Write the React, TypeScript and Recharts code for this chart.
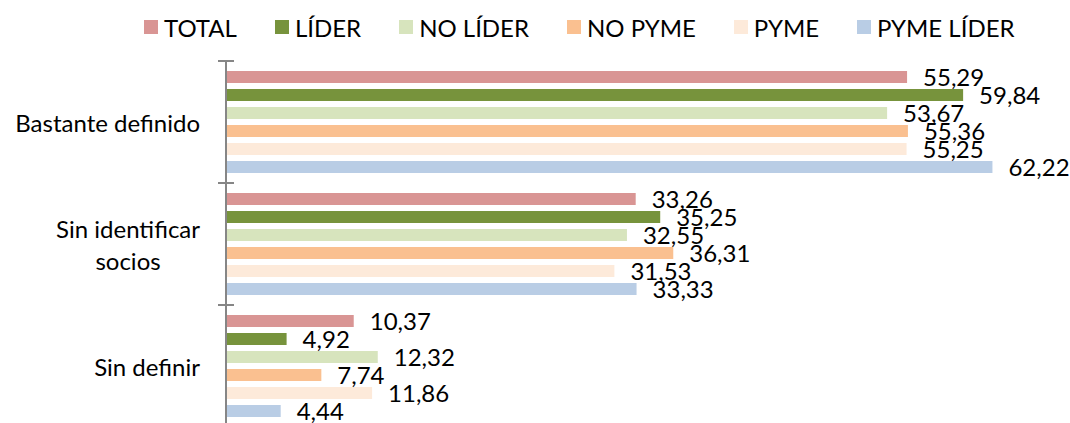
import { BarChart, Bar, XAxis, YAxis, Legend, LabelList } from "recharts";

const categories = ["Bastante definido", "Sin identificar\nsocios", "Sin definir"];
const seriesNames = ["TOTAL", "LÍDER", "NO LÍDER", "NO PYME", "PYME", "PYME LÍDER"];
const seriesColors = ["#D99594", "#77933C", "#D7E4BD", "#FAC090", "#FDEADA", "#B9CDE5"];

const total = [55.29, 33.26, 10.37];
const lider = [59.84, 35.25, 4.92];
const noLider = [53.67, 32.55, 12.32];
const noPyme = [55.36, 36.31, 7.74];
const pyme = [55.25, 31.53, 11.86];
const pymeLider = [62.22, 33.33, 4.44];

const seriesValues = [total, lider, noLider, noPyme, pyme, pymeLider];

const data = categories.map((name, i) => {
  const row: Record<string, string | number> = { name };
  seriesNames.forEach((s, k) => {
    row[s] = seriesValues[k][i];
  });
  return row;
});

const FONT = "Lato, 'Open Sans', sans-serif";
const FONT_SIZE = 24;
const PLOT_TOP = 61;
const PLOT_BOTTOM = 427;
const AXIS_X = 226;
const AXIS_COLOR = "#868686";
const BAND = (PLOT_BOTTOM - PLOT_TOP) / categories.length;

let ctx: CanvasRenderingContext2D | null = null;
const measure = (text: string) => {
  if (!ctx) ctx = document.createElement("canvas").getContext("2d");
  if (!ctx) return text.length * 10;
  ctx.font = `${FONT_SIZE}px Lato`;
  return ctx.measureText(text).width;
};

const CategoryTick = (props: any) => {
  const { y, payload } = props;
  const lines: string[] = String(payload.value).split("\n");
  const lineH = 32;
  const right = 200;
  const first = measure(lines[0]);
  return (
    <g>
      <line x1={AXIS_X - 8} x2={AXIS_X + 8} y1={y - BAND / 2} y2={y - BAND / 2} stroke={AXIS_COLOR} strokeWidth={2} />
      {lines.map((ln, i) => {
        const ly = y + (i - (lines.length - 1) / 2) * lineH;
        return (
          <text
            key={i}
            x={i === 0 ? right : right - first / 2}
            y={ly}
            textAnchor={i === 0 ? "end" : "middle"}
            dominantBaseline="central"
            fontFamily={FONT}
            fontSize={FONT_SIZE}
            fill="#000"
          >
            {ln}
          </text>
        );
      })}
    </g>
  );
};

const LegendContent = () => (
  <div style={{ height: 30, display: "flex", alignItems: "center", paddingLeft: 144, fontFamily: FONT, fontSize: FONT_SIZE, color: "#000" }}>
    {seriesNames.map((s, k) => (
      <div key={s} style={{ display: "flex", alignItems: "center", marginRight: 38 }}>
        <span style={{ width: 14, height: 14, background: seriesColors[k], marginRight: 6, display: "inline-block" }} />
        <span>{s}</span>
      </div>
    ))}
  </div>
);

const fmt = (v: any) => Number(v).toFixed(2).replace(".", ",");

export default function App() {
  return (
    <div style={{ position: "fixed", left: 0, top: 0, width: 1070, height: 423, overflow: "hidden", background: "#fff" }}>
      <BarChart
        width={1070}
        height={440}
        data={data}
        layout="vertical"
        barSize={12}
        barGap={6}
        margin={{ top: PLOT_TOP - 30, right: 31, bottom: 440 - PLOT_BOTTOM, left: 0 }}
      >
        <XAxis type="number" domain={[0, 66]} hide />
        <YAxis
          type="category"
          dataKey="name"
          width={AXIS_X}
          axisLine={{ stroke: AXIS_COLOR, strokeWidth: 2 }}
          tickLine={false}
          tick={<CategoryTick />}
          interval={0}
        />
        <Legend verticalAlign="top" content={<LegendContent />} wrapperStyle={{ top: 12, left: 0, width: 1070 }} />
        {seriesNames.map((s, k) => (
          <Bar key={s} dataKey={s} fill={seriesColors[k]} isAnimationActive={false}>
            <LabelList
              dataKey={s}
              position="right"
              offset={16}
              formatter={fmt}
              style={{ fill: "#000", fontSize: FONT_SIZE, fontFamily: FONT }}
            />
          </Bar>
        ))}
      </BarChart>
    </div>
  );
}
